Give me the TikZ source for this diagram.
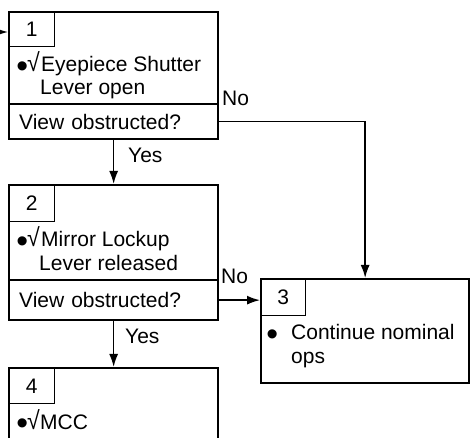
\documentclass[tikz,border=0pt]{standalone}
\usepackage{fontspec}
\setmainfont{Liberation Sans}
\usetikzlibrary{arrows.meta}
\newcommand\mybul{\raisebox{-5.4pt}{\scalebox{1.6}{•}}}
\newcommand\myck{\scalebox{1.1}[1.2]{√}}
\newcommand\bulck{\makebox[10pt]{\mybul}\makebox[14pt][l]{\myck}}
\begin{document}
\begin{tikzpicture}[x=1pt,y=-1pt,
  box/.style={draw, line width=2.3pt, anchor=north west, minimum width=209pt, inner sep=0pt},
  numbox/.style={draw, line width=1.4pt, anchor=north west, minimum width=46pt, minimum height=35pt, inner sep=0pt, text height=15pt, text depth=0pt, font=\fontsize{21}{21}\selectfont},
  qbox/.style={box, minimum height=#1, text width=189pt, align=left, inner xsep=9pt, text height=15pt, text depth=0pt, font=\fontsize{21}{21}\selectfont},
  txt/.style={anchor=base west, inner sep=0pt, font=\fontsize{21}{21}\selectfont},
  conn/.style={line width=1.6pt, -{Latex[length=13pt,width=9pt]}}]
\useasboundingbox (0,0) rectangle (474,438);
\clip (0,0) rectangle (474,438);
% box 1
\node[numbox] (n1) at (8,11) {1};
\node[box, minimum height=127pt] (b1) at (8,11) {};
\node[qbox=35pt] (q1) at (8,103) {View obstructed?};
\node[txt] (t1a) at (17,72) {\bulck Eyepiece Shutter};
\node[txt] (t1b) at (40,95) {Lever open};
% box 2
\node[numbox, minimum height=37pt] (n2) at (8,184) {2};
\node[box, minimum height=135pt] (b2) at (8,184) {};
\node[qbox=40pt] (q2) at (8,279) {View obstructed?};
\node[txt] (t2a) at (17,247) {\bulck Mirror Lockup};
\node[txt] (t2b) at (39,271) {Lever released};
% box 4
\node[numbox, minimum height=36pt] (n4) at (8,367) {4};
\node[box, minimum height=85pt] (b4) at (8,367) {};
\node[txt] (t4a) at (17,429) {\makebox[10pt]{\mybul}\makebox[13pt][l]{\myck}MCC};
% box 3
\node[numbox, minimum width=45pt, minimum height=37pt] (n3) at (260,278) {3};
\node[box, minimum width=208pt, minimum height=104pt] (b3) at (260,278) {};
\node[txt] (t3b) at (267,340) {\makebox[10pt]{\mybul}};
\node[txt] (t3a) at (291,340) {Continue nominal};
\node[txt] (t3c) at (291,363) {ops};
% connectors
\coordinate (in) at (0,32);
\draw[conn] (in) -- (in -| b1.west);
\draw[conn] (b1.south) -- (b2.north);
\draw[conn] (b2.south) -- (b4.north);
\draw[conn] (q1.east) -| (b3.north);
\draw[conn] (q2.east) -- (q2.east -| b3.west);
% labels
\node[txt] (y1) at (128,163) {Yes};
\node[txt] (y2) at (125,344) {Yes};
\node[txt] (no1) at (222,106) {No};
\node[txt] (no2) at (221,284) {No};
\end{tikzpicture}
\end{document}
